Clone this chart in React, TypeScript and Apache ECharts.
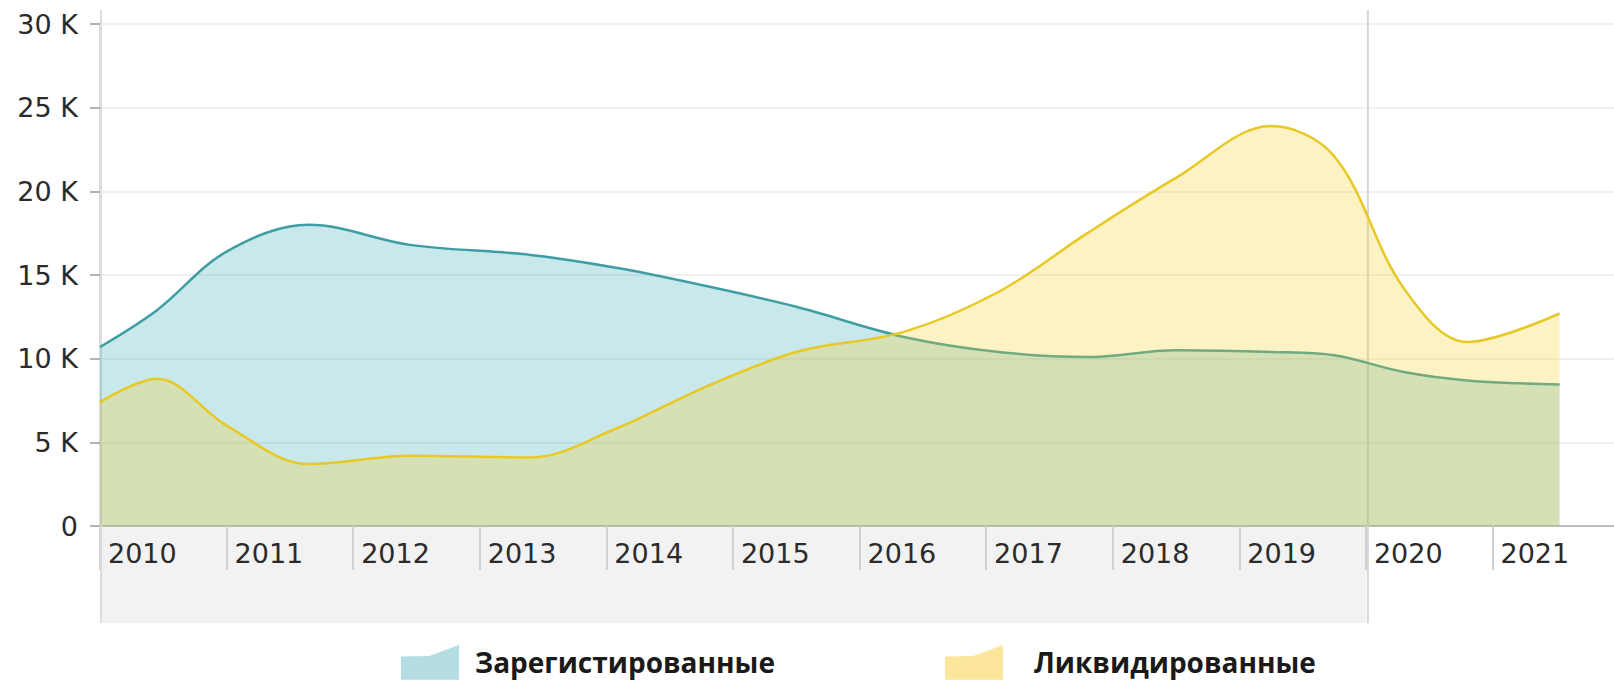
import React, { useEffect, useRef } from "react";
import * as echarts from "echarts";

// Category (year) labels of the x axis
const years = ["2010", "2011", "2012", "2013", "2014", "2015", "2016", "2017", "2018", "2019", "2020", "2021"];

// Positions of the sampled points along the time axis (in fractional years)
const xPos = [2010, 2010.45, 2011.0, 2011.65, 2012.45, 2013.4, 2014.1, 2014.75, 2015.5, 2016.35, 2017.1, 2017.8, 2018.5, 2019.25, 2019.75, 2020.3, 2020.8, 2021.53];

// Зарегистированные (registered)
const registered = [10700, 12900, 16400, 18000, 16800, 16200, 15400, 14400, 13100, 11300, 10400, 10100, 10500, 10400, 10200, 9200, 8700, 8450];

// Ликвидированные (liquidated)
const liquidated = [7400, 8800, 6000, 3700, 4200, 4100, 5900, 8200, 10400, 11600, 14000, 17500, 20800, 23900, 22100, 14200, 11000, 12700];

const seriesNames = ["Зарегистированные", "Ликвидированные"];
const highlightEndYear = 2020;

export default function App() {
  const ref = useRef<HTMLDivElement>(null);

  useEffect(() => {
    if (!ref.current) return;
    const chart = echarts.init(ref.current, undefined, { renderer: "svg" });
    const labelFont = "DejaVu Sans";
    const legendIcon = "path://M0,35 L85,33 L175,0 L175,105 L0,105 Z";
    const legendText = {
      fontSize: 28,
      lineHeight: 28,
      fontWeight: "bold",
      color: "#1a1a1a",
      fontFamily: "Open Sans",
    };
    const option: any = {
      animation: false,
      backgroundColor: "#ffffff",
      grid: { left: 100, top: 24, right: 0, height: 502, containLabel: false },
      xAxis: {
        type: "value",
        min: 2010,
        max: 2021.96,
        interval: 1,
        axisLine: { show: true, lineStyle: { color: "#bdbdbd", width: 2 } },
        axisTick: { show: true, length: 44, lineStyle: { color: "#cfcfcf", width: 2 } },
        splitLine: { show: false },
        axisLabel: {
          formatter: (v: number) => years[Math.round(v - 2010)] ?? "",
          align: "left",
          padding: [0, 0, 0, 8],
          margin: 14,
          fontSize: 27,
          color: "#2b2b2b",
          fontFamily: labelFont,
          showMaxLabel: false,
        },
      },
      yAxis: {
        type: "value",
        min: 0,
        max: 30000,
        interval: 5000,
        axisLine: { show: true, lineStyle: { color: "#dcdcdc", width: 2 } },
        axisTick: { show: true, length: 10, lineStyle: { color: "#9a9a9a", width: 1.5 } },
        splitLine: { show: true, lineStyle: { color: "#ebebeb", width: 1.5 } },
        axisLabel: {
          formatter: (v: number) => (v === 0 ? "0" : v / 1000 + " K"),
          margin: 22,
          fontSize: 27,
          color: "#2b2b2b",
          fontFamily: labelFont,
        },
      },
      legend: [
        {
          left: 396,
          top: 640,
          itemWidth: 58,
          itemHeight: 35,
          icon: legendIcon,
          data: [{ name: seriesNames[0], itemStyle: { color: "#b3dde2" } }],
          textStyle: { ...legendText, padding: [0, 0, 0, 11] },
          selectedMode: false,
        },
        {
          left: 940,
          top: 640,
          itemWidth: 58,
          itemHeight: 35,
          icon: legendIcon,
          data: [{ name: seriesNames[1], itemStyle: { color: "#fbe69c" } }],
          textStyle: { ...legendText, padding: [0, 0, 0, 26] },
          selectedMode: false,
        },
      ],
      series: [
        {
          name: seriesNames[0],
          type: "line",
          data: xPos.map((x, i) => [x, registered[i]]),
          smooth: 0.35,
          showSymbol: false,
          lineStyle: { color: "#3f9ea3", width: 2.5 },
          itemStyle: { color: "#3f9ea3" },
          areaStyle: { color: "rgba(72,176,188,0.42)" },
          z: 2,
        },
        {
          name: seriesNames[1],
          type: "line",
          data: xPos.map((x, i) => [x, liquidated[i]]),
          smooth: 0.35,
          showSymbol: false,
          lineStyle: { color: "#e8c823", width: 2.5 },
          itemStyle: { color: "#e8c823" },
          areaStyle: { color: "rgba(249,205,34,0.38)" },
          z: 3,
        },
      ],
    };
    chart.setOption(option);

    const x0 = chart.convertToPixel({ xAxisIndex: 0 }, 2010) as number;
    const x1 = chart.convertToPixel({ xAxisIndex: 0 }, highlightEndYear) as number;
    const yBase = chart.convertToPixel({ yAxisIndex: 0 }, 0) as number;
    const yTop = 10;
    const yBottom = 623;
    chart.setOption({
      graphic: [
        {
          type: "rect",
          silent: true,
          z: -1,
          shape: { x: x0, y: yBase + 1, width: x1 - x0, height: yBottom - yBase - 1 },
          style: { fill: "#f2f2f2" },
        },
        {
          type: "line",
          silent: true,
          z: 1,
          shape: { x1: x0 + 1, y1: yTop, x2: x0 + 1, y2: yBottom },
          style: { stroke: "#dcdcdc", lineWidth: 2 },
        },
        {
          type: "line",
          silent: true,
          z: 1,
          shape: { x1: x1 + 2, y1: yTop, x2: x1 + 2, y2: yBottom },
          style: { stroke: "#d6d6d6", lineWidth: 2 },
        },
      ],
    });

    return () => chart.dispose();
  }, []);

  return (
    <div
      ref={ref}
      style={{ position: "absolute", left: 0, top: 0, width: 1614, height: 681 }}
    />
  );
}
